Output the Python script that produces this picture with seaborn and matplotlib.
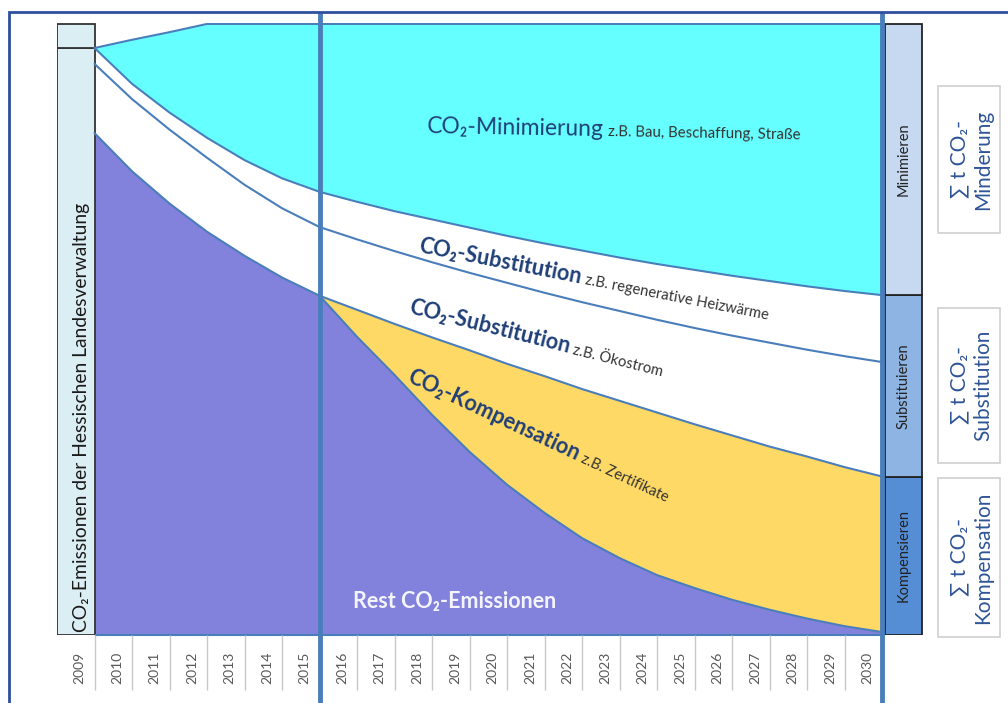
import numpy as np
import pandas as pd
import matplotlib.pyplot as plt
from matplotlib.patches import Rectangle
from matplotlib.transforms import ScaledTranslation
import seaborn as sns

W, H = 1008, 703

# Jahre und Verlaeufe (in % der Emissionen 2009, Wert jeweils am Jahresende)
years = np.arange(2009, 2031)
years_komp = np.arange(2015, 2031)
gesamt = [100.0, 101.4, 102.7, 104.1, 104.1, 104.1, 104.1, 104.1, 104.1, 104.1, 104.1,
          104.1, 104.1, 104.1, 104.1, 104.1, 104.1, 104.1, 104.1, 104.1, 104.1, 104.1]
minimierung = [100.0, 93.9, 89.0, 84.7, 80.9, 77.8, 75.5, 73.8, 72.2, 70.8, 69.4,
               68.0, 66.7, 65.5, 64.3, 63.2, 62.2, 61.2, 60.3, 59.4, 58.6, 57.9]
substitution = [97.3, 91.3, 86.1, 81.3, 76.7, 72.7, 69.5, 67.4, 65.4, 63.5, 61.7,
                60.0, 58.3, 56.7, 55.2, 53.7, 52.3, 51.0, 49.8, 48.6, 47.5, 46.5]
kompensation = [57.8, 55.4, 53.0, 50.7, 48.5, 46.2, 44.1, 41.9, 39.9, 37.9, 35.9,
                34.0, 32.1, 30.4, 28.6, 27.0]
rest = [85.5, 79.0, 73.5, 68.7, 64.6, 60.9, 57.8, 50.8, 44.3, 37.5, 31.2,
        25.6, 20.8, 16.5, 13.1, 10.2, 8.0, 6.0, 4.3, 2.8, 1.5, 0.5]
emission_2009 = 100.0

massnahmen = ["Kompensieren", "Substituieren", "Minimieren"]
summen = ["∑ t CO₂-\nMinderung", "∑ t CO₂-\nSubstitution", "∑ t CO₂-\nKompensation"]

sns.set_theme(style="white")
plt.rcParams["font.family"] = ["Lato", "DejaVu Sans"]

line_col = "#4a7ebb"
cyan = "#66ffff"
purple = "#8282dc"
yellow = "#ffd966"
navy = "#1f3f77"

fig = plt.figure(figsize=(W / 100, H / 100), dpi=100)
ax = fig.add_axes([57 / W, 1 - 635 / H, (923 - 57) / W, (635 - 23) / H])
ax.set_xlim(2008.5, 2031.59)
ax.set_ylim(0, 104.26)
for s in ax.spines.values():
    s.set_visible(False)
ax.set_yticks([])

edges = years + 0.5
edges_k = years_komp + 0.5
rest_k = np.array(rest)[-len(years_komp):]

ax.fill_between(edges, 0, rest, color=purple, lw=0)
ax.fill_between(edges_k, rest_k, kompensation, color=yellow, lw=0)
ax.fill_between(edges, minimierung, gesamt, color=cyan, lw=0)

df = pd.DataFrame({"x": edges, "gesamt": gesamt, "minimierung": minimierung,
                   "substitution": substitution, "rest": rest})
df = df.merge(pd.DataFrame({"x": edges_k, "kompensation": kompensation}), on="x", how="left")
long = df.melt("x", var_name="grenze", value_name="wert").dropna()
sns.lineplot(data=long, x="x", y="wert", hue="grenze", palette=[line_col] * 5,
             legend=False, errorbar=None, lw=1.5, ax=ax)
ax.hlines(0, edges[0], edges[-1], color=line_col, lw=1.5, clip_on=False)
ax.set_xlabel("")
ax.set_ylabel("")

# Saeule 2009
bar_kw = dict(width=1.0, color="#dbeef4", edgecolor="#333333", lw=1.3)
ax.bar(years[0], emission_2009, **bar_kw)
ax.bar(years[0], max(gesamt) - emission_2009, bottom=emission_2009, **bar_kw)
ax.text(years[0] + 0.15, 0.5, "CO₂-Emissionen der Hessischen Landesverwaltung",
        rotation=90, ha="center", va="bottom", fontsize=13.9, color="#1a1a1a")

# Massnahmen-Saeule 2030
end = [0, kompensation[-1], minimierung[-1], gesamt[-1]]
box_cols = ["#558ed5", "#8eb4e3", "#c6d9f1"]
for i, name in enumerate(massnahmen):
    ax.bar(2031.07, end[i + 1] - end[i], bottom=end[i], width=0.99, color=box_cols[i],
           edgecolor="#222222", lw=1.3)
    ax.text(2031.07, (end[i] + end[i + 1]) / 2, name, rotation=90, ha="center",
            va="center", fontsize=10.5, color="#222222")

# Jahresachse
ax.set_xticks(years)
ax.set_xticklabels(years, rotation=90, fontsize=10, color="#595959")
ax.tick_params(axis="x", length=0, pad=12)
for lab in ax.get_xticklabels():
    lab.set_transform(lab.get_transform() + ScaledTranslation(4 / 100, 0, fig.dpi_scale_trans))
ax.vlines(edges[:-1], -55 / 5.87, 0, colors="#c8c8c8", lw=1, clip_on=False)
ax.vlines([edges_k[0], edges[-1]], (635 - H - 5) / 5.87, (635 - 12) / 5.87,
          colors=line_col, lw=3.5, clip_on=False)

# Rahmen
fig.patches.append(Rectangle((9 / W, -0.02), 1.05, (H - 12) / H + 0.02, fill=False,
                             ec="#2f4f9f", lw=2, transform=fig.transFigure))


def fpos(x, y):
    return x / W, 1 - y / H


for (y0, y1), txt in zip([(86, 233), (308, 463), (478, 637)], summen):
    fig.patches.append(Rectangle(fpos(938, y1), 62 / W, (y1 - y0) / H, fc="white",
                                 ec="#d0d0d0", lw=1.2, transform=fig.transFigure))
    fig.text(*fpos(971, (y0 + y1) / 2), txt, rotation=90, ha="center", va="center",
             multialignment="center", fontsize=15, color="#2f5597", linespacing=1.25)

renderer = fig.canvas.get_renderer()


def text_len(s, **kw):
    t = fig.text(0, 0, s, **kw)
    w = t.get_window_extent(renderer).width
    t.remove()
    return w


def label(x, y, angle, main, sub, size_m, size_s, weight):
    kw = dict(fontsize=size_m, fontweight=weight, color=navy)
    fig.text(*fpos(x, y), main, rotation=angle, rotation_mode="anchor",
             ha="left", va="baseline", **kw)
    L = text_len(main, **kw) + 4
    a = np.deg2rad(angle)
    fig.text(*fpos(x + L * np.cos(a), y - L * np.sin(a)), sub, rotation=angle,
             rotation_mode="anchor", ha="left", va="baseline", fontsize=size_s,
             color="#333333")


label(427, 133, -1, "CO₂-Minimierung", "z.B. Bau, Beschaffung, Straße", 16.5, 10.8, "normal")
label(418, 252, -11, "CO₂-Substitution", "z.B. regenerative Heizwärme", 15.6, 10.6, "bold")
label(408, 313, -14, "CO₂-Substitution", "z.B. Ökostrom", 15.6, 10.6, "bold")
label(406, 381, -25, "CO₂-Kompensation", "z.B. Zertifikate", 15.6, 10.6, "bold")
fig.text(*fpos(353, 608), "Rest CO₂-Emissionen", fontsize=15.5, fontweight="bold",
         color="#f4f4ff", ha="left", va="baseline")

fig.savefig("out.png", dpi=100)
